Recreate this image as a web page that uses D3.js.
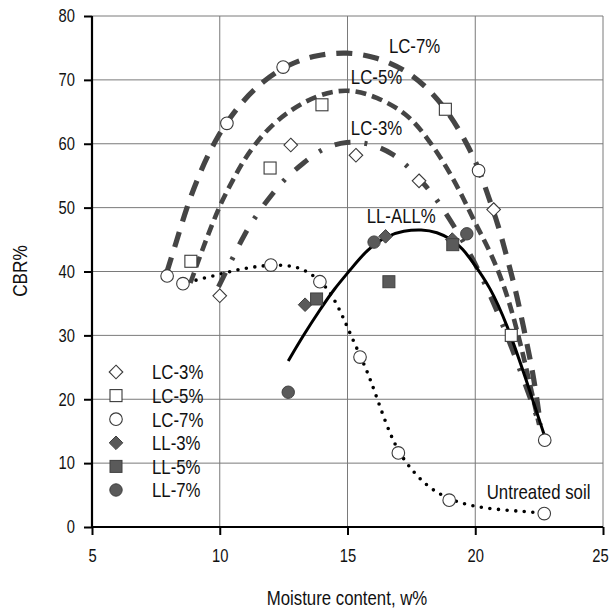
<!DOCTYPE html>
<html><head><meta charset="utf-8">
<script src="https://cdn.jsdelivr.net/npm/d3@7/dist/d3.min.js"></script>
<style>
html,body{margin:0;padding:0;background:#fff;}
text{font-family:"Liberation Sans",Arial,sans-serif;fill:#111;}
</style></head>
<body><svg id="c" width="611" height="609"></svg>
<script>
// ---- data ----
const xTicks = [5, 10, 15, 20, 25];
const yTicks = [0, 10, 20, 30, 40, 50, 60, 70, 80];
const seriesNames = ["LC-3%", "LC-5%", "LC-7%", "LL-3%", "LL-5%", "LL-7%"];

const lc3 = [[10.0,36.2],[12.78,59.8],[15.33,58.2],[17.8,54.2],[20.72,49.7]];
const lc5 = [[8.87,41.6],[11.97,56.2],[14.0,66.1],[18.83,65.4],[21.41,30.0]];
const lc7 = [[7.94,39.3],[10.28,63.2],[12.48,72.0],[20.13,55.8],[22.72,13.6]];
const untreated = [[8.56,38.1],[12.0,41.0],[13.92,38.4],[15.49,26.6],[16.99,11.6],[18.98,4.2],[22.70,2.1]];
const ll3 = [[13.34,34.8],[16.49,45.5],[19.1,45.0]];
const ll5 = [[13.79,35.7],[16.62,38.4],[19.12,44.2]];
const ll7 = [[12.68,21.1],[16.04,44.6],[19.67,45.9]];

// trend curves
const curveLC7 = [[7.92,39.8],[8.3,44.6],[8.7,50.0],[9.23,55.6],[9.88,61.1],[10.79,66.3],[11.7,69.9],[12.75,72.6],[13.8,73.9],[14.97,74.4],[16.14,73.6],[17.32,71.5],[18.23,68.4],[19.01,64.6],[19.67,60.1],[20.13,56.2],[20.45,52.5],[20.9,47.3],[21.22,42.5],[21.55,37.6],[21.8,33.0],[22.05,28.2],[22.27,23.8],[22.45,19.0],[22.55,16.0]];
const curveLC5 = [[8.85,38.2],[9.3,43.2],[9.7,47.4],[10.1,51.2],[10.5,54.2],[10.86,56.9],[11.3,59.5],[11.84,62.2],[12.75,65.3],[13.8,67.6],[14.97,68.7],[16.14,67.4],[17.32,64.8],[18.1,61.1],[18.88,56.4],[19.5,51.8],[20.0,47.5],[20.48,44.0],[21.1,38.3],[21.6,31.5],[22.05,24.0],[22.5,16.0]];
const curveLC3 = [[9.95,37.6],[10.53,42.3],[10.99,46.0],[11.44,48.9],[12.1,52.4],[12.62,54.8],[13.27,57.0],[14.05,59.4],[14.97,60.4],[15.88,60.1],[16.79,58.5],[17.45,56.1],[18.1,53.3],[18.69,50.2],[19.67,43.9],[20.51,37.1],[21.24,30.1],[21.9,23.0],[22.55,15.7]];
const curveLLAll = [[12.68,26.0],[13.3,30.2],[13.92,34.0],[14.5,37.4],[15.1,40.2],[15.75,43.4],[16.53,45.6],[17.2,46.4],[17.9,46.6],[18.5,46.2],[19.1,45.0],[19.5,43.6],[19.92,41.4],[20.58,37.6],[21.23,31.9],[22.0,23.0],[22.7,14.4]];
const curveUntreated = [[8.75,38.3],[9.3,38.9],[9.95,39.5],[10.5,40.1],[11.0,40.5],[11.5,40.8],[12.0,41.0],[12.6,41.0],[13.1,40.6],[13.55,39.7],[14.0,38.3],[14.38,36.4],[14.77,33.4],[15.1,30.3],[15.5,26.8],[15.85,23.6],[16.15,20.2],[16.5,16.3],[16.85,12.9],[17.3,9.9],[18.1,6.3],[18.98,4.3],[19.93,3.2],[20.97,2.7],[22.0,2.4],[22.6,2.2]];

const curveLabels = [
  {t:"LC-7%", x:16.62, y:74.15},
  {t:"LC-5%", x:15.13, y:69.35},
  {t:"LC-3%", x:15.13, y:61.4},
  {t:"LL-ALL%", x:15.75, y:47.55},
  {t:"Untreated soil", x:20.45, y:4.34}
];

// ---- chart ----
const svg = d3.select("#c");
const x = d3.scaleLinear().domain([5,25]).range([92,603]);
const y = d3.scaleLinear().domain([0,80]).range([527,16]);

// grid
const g = svg.append("g");
g.selectAll(".gx").data(xTicks.slice(1)).join("line")
  .attr("x1",d=>x(d)).attr("x2",d=>x(d)).attr("y1",y(0)).attr("y2",y(80))
  .attr("stroke","#7a7a7a").attr("stroke-width",1);
g.selectAll(".gy").data(yTicks.slice(1)).join("line")
  .attr("x1",x(5)).attr("x2",x(25)).attr("y1",d=>y(d)).attr("y2",d=>y(d))
  .attr("stroke","#7a7a7a").attr("stroke-width",1);

// axes
const xAxis = d3.axisBottom(x).tickValues(xTicks).tickSize(8).tickPadding(14).tickFormat(d3.format("d"));
const yAxis = d3.axisLeft(y).tickValues(yTicks).tickSize(8).tickPadding(9).tickFormat(d3.format("d"));
const gx = svg.append("g").attr("transform",`translate(0,${y(0)})`).call(xAxis);
const gy = svg.append("g").attr("transform",`translate(${x(5)},0)`).call(yAxis);
[gx,gy].forEach(a=>{
  a.select(".domain").attr("stroke","#000").attr("stroke-width",2.2);
  a.selectAll(".tick line").attr("stroke","#000").attr("stroke-width",2);
  a.selectAll(".tick text").attr("font-size",18).attr("fill","#111")
    .style("font-family",'"Liberation Sans",Arial,sans-serif');
});
gx.select(".domain").attr("d",`M${x(5)},0H${x(25)}`);
gy.select(".domain").attr("d",`M0,${y(0)}V${y(80)}`);
// keep the last x label inside the window
gx.selectAll(".tick text").filter(d=>d===25).attr("x",-3);

// curves
const line = d3.line().x(d=>x(d[0])).y(d=>y(d[1])).curve(d3.curveBasis);
const cg = svg.append("g").attr("fill","none");
cg.append("path").datum(curveUntreated).attr("d",line)
  .attr("stroke","#000").attr("stroke-width",3.6).attr("stroke-linecap","round").attr("stroke-dasharray","0,8.6");
cg.append("path").datum(curveLC3).attr("d",line)
  .attr("stroke","#454545").attr("stroke-width",5).attr("stroke-dasharray","16,14,3,14");
cg.append("path").datum(curveLC5).attr("d",line)
  .attr("stroke","#454545").attr("stroke-width",4.6).attr("stroke-dasharray","11,6");
cg.append("path").datum(curveLC7).attr("d",line)
  .attr("stroke","#454545").attr("stroke-width",5.2).attr("stroke-dasharray","16,11");
cg.append("path").datum(curveLLAll).attr("d",line)
  .attr("stroke","#000").attr("stroke-width",3);

// markers
const openStyle = s=>s.attr("fill","#fff").attr("stroke","#3a3a3a").attr("stroke-width",1.1);
const darkStyle = s=>s.attr("fill","#5a5a5a").attr("stroke","#404040").attr("stroke-width",1);
const mg = svg.append("g");
function diamonds(data, style, r){
  mg.selectAll(null).data(data).join("path")
    .attr("d",d=>`M${x(d[0])},${y(d[1])-r}L${x(d[0])+r},${y(d[1])}L${x(d[0])},${y(d[1])+r}L${x(d[0])-r},${y(d[1])}Z`)
    .call(style);
}
function squares(data, style, s){
  mg.selectAll(null).data(data).join("rect")
    .attr("x",d=>x(d[0])-s/2).attr("y",d=>y(d[1])-s/2).attr("width",s).attr("height",s)
    .call(style);
}
function circles(data, style, r){
  mg.selectAll(null).data(data).join("circle")
    .attr("cx",d=>x(d[0])).attr("cy",d=>y(d[1])).attr("r",r).call(style);
}
diamonds(lc3, openStyle, 6.8);
squares(lc5, openStyle, 12);
circles(lc7, openStyle, 6.3);
circles(untreated, openStyle, 6.3);
diamonds(ll3, darkStyle, 6.8);
squares(ll5, darkStyle, 12);
circles(ll7, darkStyle, 6.2);

// curve labels
svg.append("g").selectAll("text").data(curveLabels).join("text")
  .attr("x",d=>x(d.x)).attr("y",d=>y(d.y)).attr("font-size",20.5).text(d=>d.t);

// legend
const lg = svg.append("g");
const legY = d3.scalePoint().domain(seriesNames).range([372,490]);
const legMark = [
  (s,cy)=>s.append("path").attr("d",`M116,${cy-6.8}L${122.8},${cy}L116,${cy+6.8}L${109.2},${cy}Z`).call(openStyle),
  (s,cy)=>s.append("rect").attr("x",110).attr("y",cy-6).attr("width",12).attr("height",12).call(openStyle),
  (s,cy)=>s.append("circle").attr("cx",116).attr("cy",cy).attr("r",6.3).call(openStyle),
  (s,cy)=>s.append("path").attr("d",`M116,${cy-6.8}L${122.8},${cy}L116,${cy+6.8}L${109.2},${cy}Z`).call(darkStyle),
  (s,cy)=>s.append("rect").attr("x",110).attr("y",cy-6).attr("width",12).attr("height",12).call(darkStyle),
  (s,cy)=>s.append("circle").attr("cx",116).attr("cy",cy).attr("r",6.2).call(darkStyle)
];
seriesNames.forEach((n,i)=>{
  const cy = legY(n);
  legMark[i](lg, cy);
  lg.append("text").attr("x",152).attr("y",cy+7.5).attr("font-size",20.5).text(n);
});

// axis titles
svg.append("text").attr("x",347).attr("y",605).attr("text-anchor","middle").attr("font-size",20.5).text("Moisture content, w%");
svg.append("text").attr("transform","translate(27,271) rotate(-90)").attr("text-anchor","middle").attr("font-size",21).text("CBR%");

// condense all text horizontally (reference uses a narrow sans face)
svg.selectAll("text").each(function(){
  const el = d3.select(this);
  const tx = +el.attr("x") || 0;
  const prev = el.attr("transform") || "";
  el.attr("transform", `${prev} translate(${tx},0) scale(0.82,1) translate(${-tx},0)`.trim());
});
</script>
</body></html>
